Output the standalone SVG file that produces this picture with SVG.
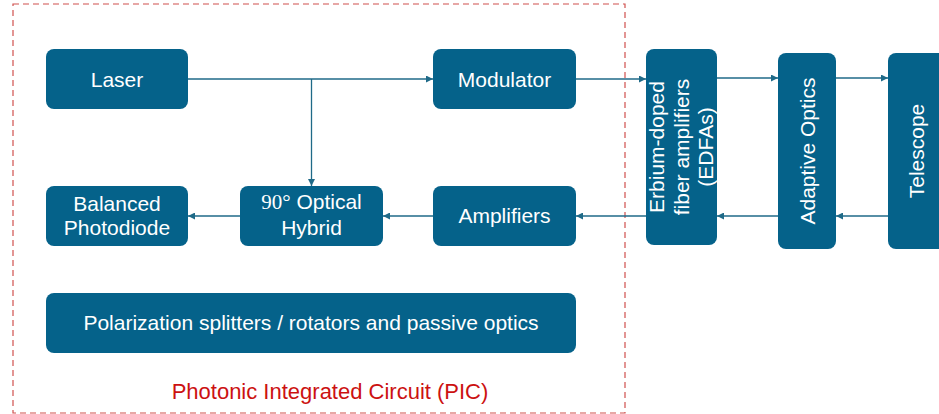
<svg xmlns="http://www.w3.org/2000/svg" width="939" height="414" viewBox="0 0 939 414">
  <style>
    .box { fill: #05628a; }
    .lbl { fill: #ffffff; font-family: "Liberation Sans", Arial, sans-serif; font-size: 21px; text-anchor: middle; }
    .vl { fill: #ffffff; font-family: "Liberation Sans", Arial, sans-serif; font-size: 21px; text-anchor: middle; }
    .conn { stroke: #1f6a88; stroke-width: 1.3; fill: none; marker-end: url(#arr); }
    .pic { fill: none; stroke: #d0504e; stroke-width: 1.2; stroke-dasharray: 6 4; }
    .picl { fill: #cc1111; font-family: "Liberation Sans", Arial, sans-serif; font-size: 22px; text-anchor: middle; }
  </style>
  <defs>
    <marker id="arr" viewBox="0 0 10 10" refX="10" refY="5" markerWidth="7" markerHeight="7" markerUnits="userSpaceOnUse" orient="auto">
      <path d="M0,0 L10,5 L0,10 z" fill="#1f6a88"/>
    </marker>
  </defs>
  <rect width="939" height="414" fill="#ffffff"/>

  <g id="pic-boundary">
    <rect class="pic" x="13" y="4" width="612" height="409"/>
    <text class="picl" x="330" y="399">Photonic Integrated Circuit (PIC)</text>
  </g>

  <g id="connectors">
    <line class="conn" x1="188" y1="79" x2="433" y2="79"/>
    <line class="conn" x1="311.5" y1="79" x2="311.5" y2="186"/>
    <line class="conn" x1="576" y1="79" x2="646" y2="79"/>
    <line class="conn" x1="717" y1="78" x2="778" y2="78"/>
    <line class="conn" x1="836" y1="78" x2="888" y2="78"/>
    <line class="conn" x1="888" y1="216" x2="836" y2="216"/>
    <line class="conn" x1="778" y1="216" x2="717" y2="216"/>
    <line class="conn" x1="646" y1="216" x2="576" y2="216"/>
    <line class="conn" x1="433" y1="216" x2="383" y2="216"/>
    <line class="conn" x1="240" y1="216" x2="188" y2="216"/>
  </g>

  <g id="laser">
    <rect class="box" x="46" y="49" width="142" height="60" rx="8"/>
    <text class="lbl" x="117" y="87">Laser</text>
  </g>
  <g id="modulator">
    <rect class="box" x="433" y="49" width="143" height="60" rx="8"/>
    <text class="lbl" x="504.5" y="87">Modulator</text>
  </g>
  <g id="balanced-photodiode">
    <rect class="box" x="46" y="186" width="142" height="60" rx="8"/>
    <text class="lbl" x="117" y="211">Balanced</text>
    <text class="lbl" x="117" y="235">Photodiode</text>
  </g>
  <g id="optical-hybrid">
    <rect class="box" x="240" y="186" width="143" height="60" rx="8"/>
    <text class="lbl" x="311.5" y="209"><tspan font-family="'Liberation Serif', 'Times New Roman', serif">90°</tspan> Optical</text>
    <text class="lbl" x="311.5" y="235">Hybrid</text>
  </g>
  <g id="amplifiers">
    <rect class="box" x="433" y="186" width="143" height="60" rx="8"/>
    <text class="lbl" x="504.5" y="223">Amplifiers</text>
  </g>
  <g id="polarization">
    <rect class="box" x="46" y="293" width="530" height="60" rx="8"/>
    <text class="lbl" x="311" y="330" font-size="21.3">Polarization splitters / rotators and passive optics</text>
  </g>
  <g id="edfa">
    <rect class="box" x="646" y="49" width="71" height="196" rx="8"/>
    <text class="vl" transform="translate(664,147) rotate(-90)">Erbium-doped</text>
    <text class="vl" transform="translate(689,147) rotate(-90)">fiber amplifiers</text>
    <text class="vl" transform="translate(713,147) rotate(-90)">(EDFAs)</text>
  </g>
  <g id="adaptive-optics">
    <rect class="box" x="778" y="53" width="58" height="196" rx="8"/>
    <text class="vl" transform="translate(815,151) rotate(-90)">Adaptive Optics</text>
  </g>
  <g id="telescope">
    <rect class="box" x="888" y="53" width="70" height="196" rx="8"/>
    <text class="vl" transform="translate(924,151) rotate(-90)">Telescope</text>
  </g>
</svg>
